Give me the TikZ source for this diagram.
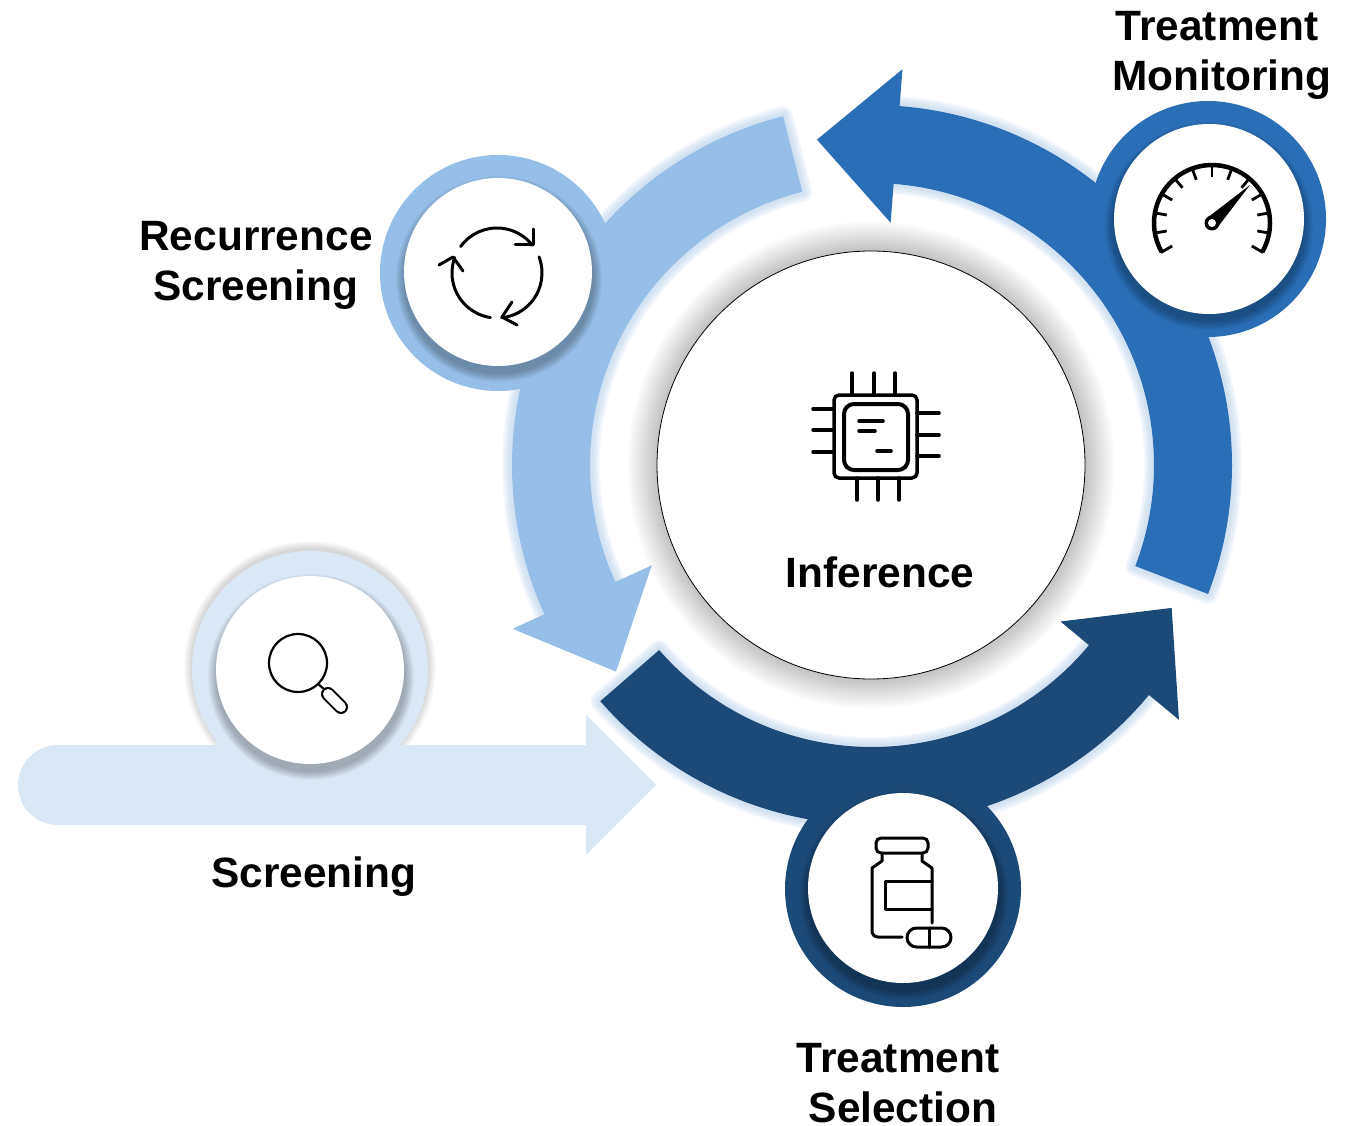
\documentclass[tikz,border=0pt]{standalone}
\usepackage{fontspec}
\setmainfont{Liberation Sans}
\usepackage{xcolor}
\usetikzlibrary{arrows}

\definecolor{palestage}{HTML}{DAE8F6}
\definecolor{lightstage}{HTML}{95BEE8}
\definecolor{midstage}{HTML}{2A6EB5}
\definecolor{darkstage}{HTML}{1B4A78}
\definecolor{bandglow}{HTML}{B4CFEC}

\tikzset{
  label text/.style={font=\fontsize{42.4}{50}\selectfont\bfseries,align=center,inner sep=0pt,text=black},
  icon line/.style={line width=3pt,line cap=round,line join=round,draw=black},
  chip line/.style={line width=3.5pt,line cap=round,draw=black},
  thin icon/.style={line width=2.2pt,line cap=round,line join=round,draw=black},
  white disc/.style={circle,fill=white,inner sep=0pt,minimum size=188pt}
}

% #1 colour, #2 start angle, #3 end angle, #4 outer wing, #5 inner wing, #6 tip angle, #7 tip radius
\newcommand{\ringarrow}[7]{
  \def\glowpath{(#2:360) arc[start angle=#2,end angle=#3,radius=360]
    -- (#3:282) arc[start angle=#3,end angle=#2,radius=282] -- cycle}
  \foreach \w in {20,17,14,11,8,5}
    \draw[draw=bandglow,opacity=.13,line width=\w pt,line join=round] \glowpath;
  \fill[#1] (#2:360) arc[start angle=#2,end angle=#3,radius=360]
    -- (#3:#4) -- (#6:#7) -- (#3:#5) -- (#3:282)
    arc[start angle=#3,end angle=#2,radius=282] -- cycle;
}
% soft grey halo round a disc: #1 centre, #2 radius, #3 reach, #4 strength
\newcommand{\softhalo}[4]{
  \foreach \d in {1,...,#3}
    \fill[black,opacity=#4] (#1) circle[radius=#2+\d];
}

\begin{document}
\begin{tikzpicture}[x=1pt,y=1pt,yscale=-1]
  \useasboundingbox (0,0) rectangle (1352,1126);
  \fill[white] (0,0) rectangle (1352,1126);

  % outer halo of the screening disc, then the arrow over it
  \softhalo{310,667}{118}{8}{.02}
  \fill[palestage] (586,745) -- (58,745) arc[start angle=-90,end angle=-270,radius=40]
    -- (586,825) -- (586,855) -- (656,785) -- (586,715) -- cycle;

  % ring of three arrows
  \begin{scope}[shift={(872,465)}]
    \ringarrow{lightstage}{-104.3}{-204.5}{395}{242}{-218.9}{329}
    \ringarrow{midstage}{21}{-85.6}{397}{243}{-99.6}{330}
    \ringarrow{darkstage}{-221}{-320.3}{399}{245}{-334.5}{332}
  \end{scope}

  % centre disc
  \coordinate (hub) at (871,465);
  \softhalo{hub}{214}{30}{.0075}
  \node (inference) [circle,draw=black,line width=.8pt,fill=white,inner sep=0pt,minimum size=428pt] at (hub) {};

  % stage discs
  \fill[lightstage] (498,273) circle[radius=118];
  \softhalo{499,279}{94}{9}{.03}
  \node (recurdisc) [white disc] at (498,272) {};

  \fill[midstage] (1208,219) circle[radius=118];
  \softhalo{1209,226}{95}{9}{.03}
  \node (monitordisc) [white disc,minimum size=190pt] at (1209,219) {};

  \fill[darkstage] (903,889) circle[radius=118];
  \softhalo{904,895}{95}{9}{.03}
  \node (selectdisc) [white disc,minimum size=190pt] at (903,888) {};

  \fill[palestage] (310,669) circle[radius=118];
  \softhalo{311,677}{94}{9}{.03}
  \node (screendisc) [white disc] at (310,670) {};

  % chip
  \draw[line width=3.5pt,rounded corners=5pt] (834,395) rectangle (917,478);
  \draw[line width=4pt,rounded corners=10pt] (844,404) rectangle (908,470);
  \foreach \p in {852,874,895}
    \draw[chip line] (\p,373) -- (\p,395);
  \foreach \p in {857,878,899}
    \draw[chip line] (\p,478) -- (\p,500);
  \foreach \p in {409,430,452}
    \draw[chip line] (813,\p) -- (834,\p);
  \foreach \p in {413,435,456}
    \draw[chip line] (917,\p) -- (939,\p);
  \draw[chip line] (859,421) -- (883,421) (859,431) -- (875,431) (877,451) -- (891,451);

  % refresh arrows
  \begin{scope}[icon line]
    \draw (497,273) ++(-144:45) arc[start angle=-144,end angle=-38,radius=45];
    \draw (515,245) -- (533,245) -- (533,229);
    \draw (497,273) ++(-21:45) arc[start angle=-21,end angle=84,radius=45];
    \draw (512,302) -- (502,317) -- (517,325);
    \draw (497,273) ++(98.5:45) arc[start angle=98.5,end angle=200,radius=45];
    \draw (439,265) -- (453,257) -- (463,271);
  \end{scope}

  % gauge
  \draw[line width=4.5pt] (1212,223) ++(150:58) arc[start angle=150,end angle=390,radius=58];
  \foreach \a in {150,170,...,390}
    \draw[line width=2.8pt] (1212,223) ++(\a:46) -- ++(\a:13);
  \fill[black] (1250,185) -- (1207,218) -- (1217,228) -- cycle;
  \fill[black] (1212,223) circle[radius=7.5];
  \fill[white] (1212,223) circle[radius=4];

  % bottle and pill
  \draw[icon line,rounded corners=5pt] (876,853) -- (876,838) -- (928,838) -- (928,853) -- cycle;
  \draw[icon line] (882,853) -- (882,861) -- (872,868) [rounded corners=6pt] -- (872,937) -- (902,937);
  \draw[icon line] (922,853) -- (922,861) -- (932,868) -- (932,923);
  \draw[icon line] (932,881) -- (885,881) -- (885,909) -- (932,909);
  \draw[icon line,rounded corners=9.5pt] (907,928) rectangle (951,947);
  \draw[icon line] (929,928) -- (929,947);

  % magnifier
  \draw[thin icon] (298,663) circle[radius=29];
  \draw[thin icon] (318,684) -- (324,689);
  \draw[line width=14pt,line cap=round,draw=black] (328,694) -- (341,707);
  \draw[line width=10pt,line cap=round,draw=white] (328,694) -- (341,707);

  % labels
  \node (recurlabel) [label text] at (256,265) {Recurrence\\Screening};
  \node (monitorlabel) [label text] at (1222,55) {Treatment\hspace*{10pt}\\Monitoring};
  \node (selectlabel) [label text] at (903,1083) {Treatment\hspace*{10pt}\\Selection};
  \node (screenlabel) [label text] at (314,877) {Screening};
  \node (inferlabel) [label text] at (880,572) {Inference};
\end{tikzpicture}
\end{document}
